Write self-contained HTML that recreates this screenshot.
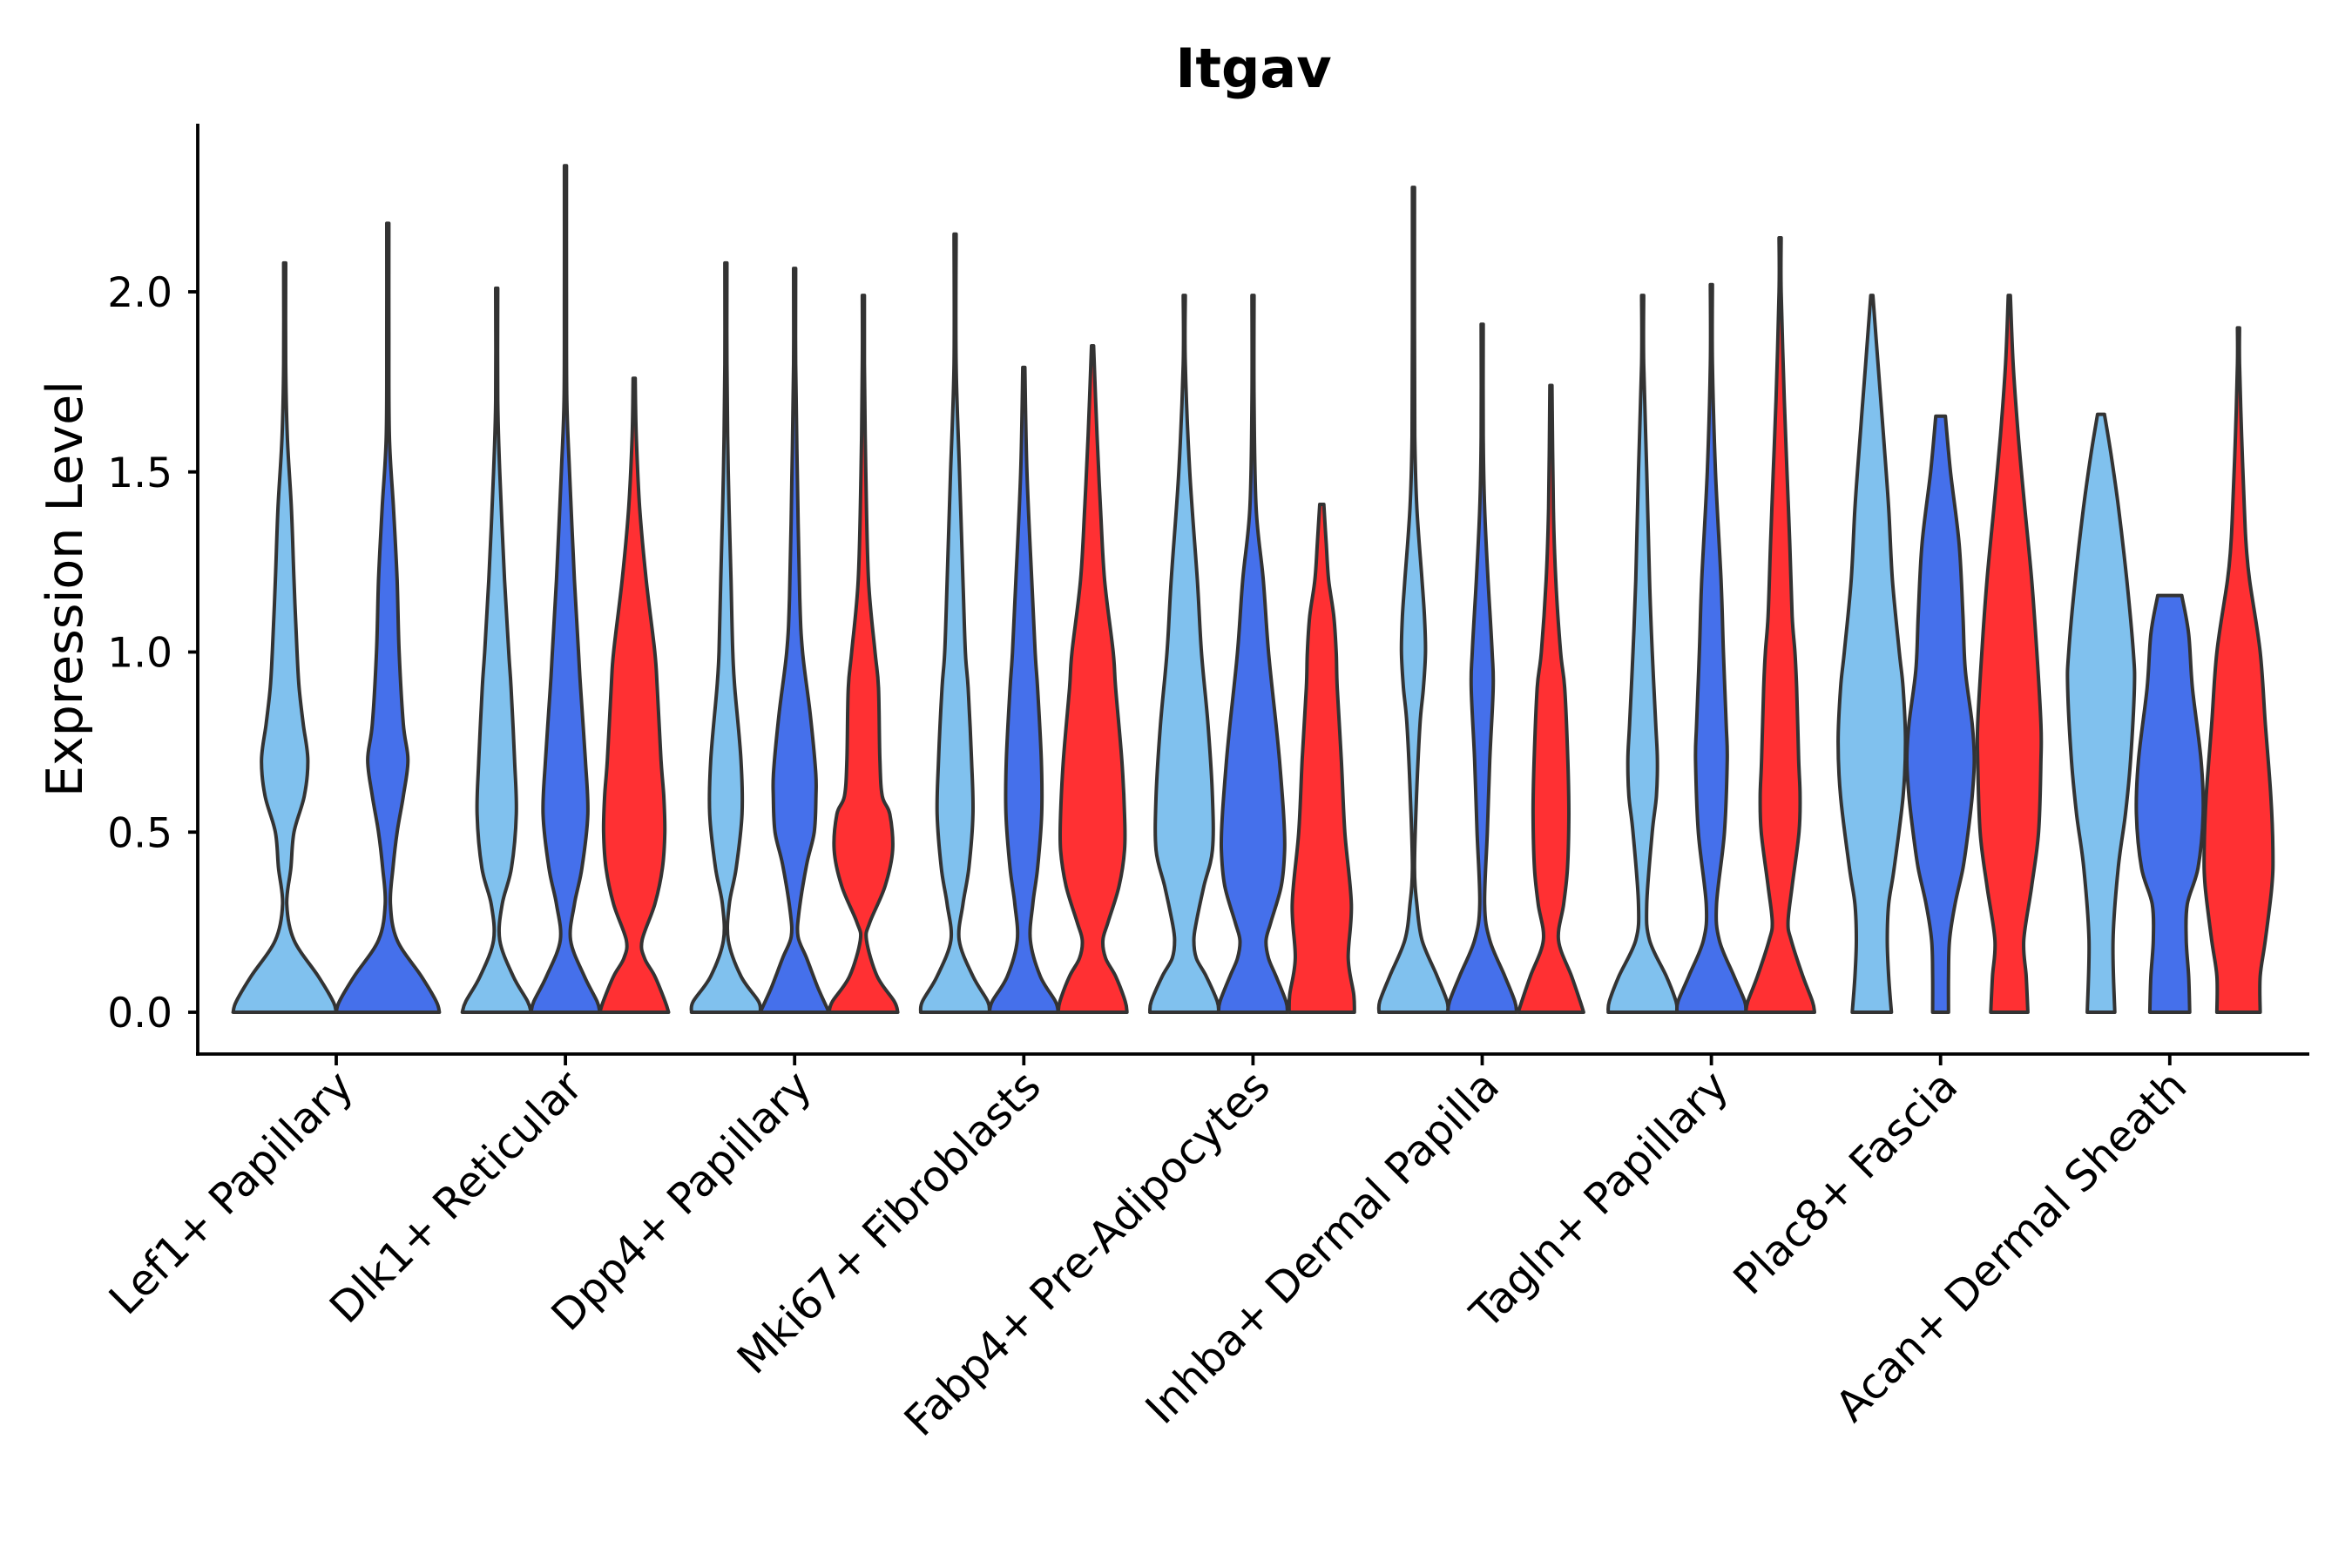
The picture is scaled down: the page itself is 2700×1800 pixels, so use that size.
<!DOCTYPE html>
<html><head><meta charset="utf-8"><style>
html,body{margin:0;padding:0;background:#fff}
svg{display:block}
text{font-family:"DejaVu Sans","Liberation Sans",sans-serif}
</style></head><body>
<svg id="chart" width="2700" height="1800" viewBox="0 0 2700 1800" xmlns="http://www.w3.org/2000/svg">
<text x="1439" y="100" font-size="62" font-weight="bold" text-anchor="middle" fill="#000">Itgav</text>
<text transform="translate(94,676) rotate(-90)" font-size="57" text-anchor="middle" fill="#000">Expression Level</text>
<g id="violins"></g>
<g id="axes"></g>
</svg>
<script>
const categories = ["Lef1+ Papillary","Dlk1+ Reticular","Dpp4+ Papillary","Mki67+ Fibroblasts","Fabp4+ Pre-Adipocytes","Inhba+ Dermal Papilla","Tagln+ Papillary","Plac8+ Fascia","Acan+ Dermal Sheath"];
const groups = ["light","blue","red"];
const groupColorList = ["#80C1EE","#4570EB","#FF3033"];
const yTicks = [0,0.5,1.0,1.5,2.0];
const yTickLabels = ["0.0","0.5","1.0","1.5","2.0"];
const violinCat = [0,0,1,1,1,2,2,2,3,3,3,4,4,4,5,5,5,6,6,6,7,7,7,8,8,8];
const violinGroup = [0,1,0,1,2,0,1,2,0,1,2,0,1,2,0,1,2,0,1,2,0,1,2,0,1,2];
const violinKnots = [
 [[0,1],[0.03,0.94],[0.1,0.65],[0.2,0.18],[0.3,0.04],[0.4,0.12],[0.5,0.18],[0.6,0.38],[0.7,0.45],[0.8,0.36],[0.9,0.28],[1.0,0.24],[1.2,0.18],[1.4,0.13],[1.6,0.05],[1.8,0.02],[2.08,0.012]],
 [[0,1],[0.03,0.94],[0.1,0.65],[0.2,0.18],[0.3,0.05],[0.4,0.1],[0.5,0.18],[0.6,0.3],[0.7,0.39],[0.8,0.3],[1.0,0.22],[1.2,0.18],[1.4,0.11],[1.6,0.03],[1.9,0.015],[2.19,0.012]],
 [[0,1],[0.03,0.9],[0.1,0.48],[0.2,0.09],[0.3,0.16],[0.4,0.43],[0.55,0.57],[0.7,0.52],[0.9,0.42],[1.0,0.35],[1.2,0.23],[1.5,0.09],[1.7,0.03],[2.01,0.02]],
 [[0,1],[0.03,0.92],[0.1,0.55],[0.2,0.15],[0.3,0.26],[0.4,0.48],[0.55,0.65],[0.7,0.58],[0.9,0.44],[1.0,0.38],[1.2,0.26],[1.5,0.12],[1.7,0.04],[2.0,0.015],[2.35,0.015]],
 [[0,1],[0.03,0.9],[0.1,0.6],[0.15,0.3],[0.2,0.23],[0.3,0.6],[0.4,0.82],[0.5,0.89],[0.6,0.86],[0.7,0.78],[0.9,0.67],[1.0,0.6],[1.2,0.35],[1.4,0.16],[1.6,0.06],[1.76,0.03]],
 [[0,1],[0.03,0.95],[0.1,0.44],[0.2,0.07],[0.3,0.1],[0.4,0.3],[0.55,0.47],[0.7,0.44],[0.9,0.26],[1.0,0.2],[1.2,0.15],[1.5,0.07],[1.8,0.02],[2.08,0.015]],
 [[0,1],[0.07,0.67],[0.15,0.35],[0.21,0.1],[0.28,0.13],[0.41,0.35],[0.5,0.57],[0.6,0.62],[0.67,0.61],[0.83,0.45],[1.0,0.23],[1.15,0.15],[1.48,0.08],[1.8,0.02],[2.065,0.015]],
 [[0,1],[0.03,0.9],[0.1,0.4],[0.2,0.09],[0.25,0.19],[0.35,0.63],[0.45,0.85],[0.55,0.77],[0.6,0.55],[0.7,0.48],[0.9,0.44],[1.0,0.34],[1.2,0.15],[1.5,0.07],[1.8,0.02],[1.99,0.015]],
 [[0,1],[0.03,0.95],[0.1,0.52],[0.2,0.12],[0.3,0.23],[0.4,0.4],[0.55,0.52],[0.7,0.48],[0.9,0.38],[1.0,0.3],[1.2,0.23],[1.5,0.13],[1.8,0.03],[2.16,0.015]],
 [[0,1],[0.03,0.92],[0.1,0.48],[0.2,0.19],[0.3,0.26],[0.4,0.4],[0.55,0.52],[0.7,0.51],[0.9,0.4],[1.0,0.33],[1.2,0.23],[1.5,0.09],[1.79,0.015]],
 [[0,1],[0.03,0.95],[0.1,0.67],[0.15,0.38],[0.2,0.3],[0.25,0.45],[0.35,0.77],[0.45,0.93],[0.55,0.93],[0.7,0.85],[0.9,0.67],[1.0,0.6],[1.2,0.35],[1.4,0.23],[1.6,0.13],[1.85,0.02]],
 [[0,1],[0.03,0.96],[0.1,0.64],[0.15,0.35],[0.2,0.28],[0.25,0.35],[0.35,0.57],[0.45,0.82],[0.6,0.82],[0.8,0.69],[1.0,0.5],[1.2,0.38],[1.5,0.16],[1.8,0.03],[1.99,0.015]],
 [[0,1],[0.03,0.96],[0.1,0.67],[0.15,0.45],[0.2,0.38],[0.25,0.52],[0.35,0.82],[0.45,0.92],[0.55,0.89],[0.7,0.77],[0.8,0.67],[1.0,0.45],[1.2,0.3],[1.4,0.09],[1.7,0.02],[1.99,0.015]],
 [[0,0.95],[0.05,0.93],[0.15,0.77],[0.3,0.86],[0.5,0.67],[0.7,0.57],[0.9,0.45],[1.0,0.42],[1.1,0.35],[1.2,0.2],[1.3,0.13],[1.41,0.06]],
 [[0,1],[0.03,0.98],[0.1,0.69],[0.2,0.25],[0.3,0.1],[0.4,0.03],[0.6,0.09],[0.8,0.19],[0.9,0.29],[1.0,0.35],[1.1,0.32],[1.2,0.25],[1.4,0.1],[1.6,0.04],[1.9,0.015],[2.29,0.012]],
 [[0,1],[0.03,0.95],[0.1,0.66],[0.2,0.22],[0.3,0.07],[0.5,0.15],[0.7,0.22],[0.9,0.32],[1.0,0.29],[1.2,0.17],[1.4,0.07],[1.6,0.03],[1.91,0.015]],
 [[0,0.95],[0.03,0.85],[0.1,0.6],[0.2,0.22],[0.3,0.37],[0.4,0.48],[0.55,0.52],[0.7,0.49],[0.9,0.4],[1.0,0.28],[1.2,0.14],[1.4,0.07],[1.74,0.03]],
 [[0,1],[0.03,0.97],[0.1,0.69],[0.2,0.2],[0.3,0.12],[0.5,0.28],[0.6,0.4],[0.7,0.43],[0.8,0.38],[1.0,0.28],[1.2,0.2],[1.5,0.12],[1.8,0.03],[1.99,0.015]],
 [[0,1],[0.03,0.97],[0.1,0.66],[0.2,0.23],[0.3,0.15],[0.5,0.38],[0.7,0.46],[0.8,0.43],[1.0,0.35],[1.2,0.28],[1.5,0.12],[1.8,0.03],[2.02,0.015]],
 [[0,1],[0.03,0.94],[0.1,0.66],[0.2,0.32],[0.25,0.23],[0.35,0.35],[0.5,0.55],[0.6,0.58],[0.7,0.54],[0.9,0.48],[1.0,0.43],[1.1,0.35],[1.3,0.28],[1.5,0.2],[1.7,0.12],[2.0,0.02],[2.15,0.015]],
 [[0,0.57],[0.1,0.49],[0.2,0.45],[0.3,0.49],[0.4,0.65],[0.6,0.91],[0.75,0.98],[0.9,0.91],[1.0,0.8],[1.2,0.6],[1.4,0.49],[1.6,0.34],[1.8,0.18],[1.99,0.03]],
 [[0,0.23],[0.1,0.23],[0.2,0.26],[0.3,0.42],[0.4,0.65],[0.5,0.8],[0.6,0.92],[0.7,0.98],[0.8,0.92],[0.95,0.72],[1.1,0.65],[1.3,0.54],[1.5,0.29],[1.655,0.14]],
 [[0,0.54],[0.1,0.49],[0.2,0.42],[0.35,0.65],[0.5,0.85],[0.7,0.92],[0.8,0.92],[1.0,0.8],[1.2,0.65],[1.4,0.45],[1.6,0.26],[1.8,0.11],[1.99,0.02]],
 [[0,0.4],[0.2,0.35],[0.4,0.5],[0.55,0.71],[0.7,0.86],[0.9,0.97],[1.0,0.94],[1.2,0.75],[1.4,0.51],[1.55,0.29],[1.66,0.1]],
 [[0,0.58],[0.1,0.55],[0.2,0.48],[0.3,0.51],[0.4,0.82],[0.55,0.97],[0.7,0.91],[0.9,0.66],[1.05,0.55],[1.157,0.35]],
 [[0,0.63],[0.1,0.63],[0.2,0.78],[0.35,0.97],[0.45,1.0],[0.6,0.94],[0.8,0.78],[1.0,0.63],[1.2,0.32],[1.3,0.22],[1.4,0.17],[1.6,0.09],[1.8,0.03],[1.9,0.015]]
];

const NS = "http://www.w3.org/2000/svg";
const X0 = 386, DX = 263.1, Y0 = 1162, PX_PER_UNIT = 413.5;
function xScale(i){ return X0 + i*DX; }
function yScale(v){ return Y0 - v*PX_PER_UNIT; }
function spline(pts){
  let d = "";
  for (let i=0;i<pts.length-1;i++){
    const p0 = pts[Math.max(i-1,0)], p1 = pts[i], p2 = pts[i+1], p3 = pts[Math.min(i+2,pts.length-1)];
    const c1 = [p1[0]+(p2[0]-p0[0])/6, p1[1]+(p2[1]-p0[1])/6];
    const c2 = [p2[0]-(p3[0]-p1[0])/6, p2[1]-(p3[1]-p1[1])/6];
    d += " C" + c1[0].toFixed(1) + "," + c1[1].toFixed(1) + " " + c2[0].toFixed(1) + "," + c2[1].toFixed(1) + " " + p2[0].toFixed(1) + "," + p2[1].toFixed(1);
  }
  return d;
}

const vg = document.getElementById('violins');
const counts = {};
violinCat.forEach(c => { counts[c] = (counts[c]||0)+1; });
const slotIdx = {};
for (let k = 0; k < violinKnots.length; k++) {
  const knots = violinKnots[k];
  const c = violinCat[k];
  const n = counts[c] || 3;
  const slot = slotIdx[c] || 0; slotIdx[c] = slot + 1;
  let g = violinGroup[k];
  if (g === undefined || groupColorList[g] === undefined) g = slot % 3;
  const slotW = 0.9*DX/n;
  const cx = xScale(c) - 0.45*DX + slotW*(slot+0.5);
  const H = slotW/2;
  const right = knots.map(kn => [cx + Math.max(kn[1]*H,1.2), yScale(kn[0])]);
  const left = knots.map(kn => [cx - Math.max(kn[1]*H,1.2), yScale(kn[0])]).reverse();
  const d = "M" + right[0][0].toFixed(1) + "," + right[0][1].toFixed(1) + spline(right) +
          " L" + left[0][0].toFixed(1) + "," + left[0][1].toFixed(1) + spline(left) + " Z";
  const color = groupColorList[g] || "#FF3033";
  const p = document.createElementNS(NS,'path');
  p.setAttribute('d', d);
  p.setAttribute('fill', color);
  p.setAttribute('stroke', '#333333');
  p.setAttribute('stroke-width', '4');
  p.setAttribute('stroke-linejoin', 'round');
  
  
  vg.appendChild(p);
}

const ag = document.getElementById('axes');
function line(x1,y1,x2,y2,name){
  const l = document.createElementNS(NS,'line');
  l.setAttribute('x1',x1); l.setAttribute('y1',y1); l.setAttribute('x2',x2); l.setAttribute('y2',y2);
  l.setAttribute('stroke','#000'); l.setAttribute('stroke-width','3.8');
  
  
  ag.appendChild(l);
}
line(227,142,227,1212,'y-axis-line');
line(225,1210,2651,1210,'x-axis-line');
yTicks.forEach((t,i) => {
  line(216,yScale(t),227,yScale(t),'y-tick');
  const tx = document.createElementNS(NS,'text');
  tx.setAttribute('x',198); tx.setAttribute('y',yScale(t)+17);
  tx.setAttribute('font-size','47'); tx.setAttribute('text-anchor','end');
  tx.setAttribute('fill','#000');
  tx.textContent = yTickLabels[i];
  
  
  ag.appendChild(tx);
});
categories.forEach((c,i) => {
  const x = xScale(i);
  line(x,1210,x,1223,'x-tick');
  const tx = document.createElementNS(NS,'text');
  tx.setAttribute('transform','translate(' + (x+22) + ',1250) rotate(-45)');
  tx.setAttribute('font-size','49'); tx.setAttribute('text-anchor','end');
  tx.setAttribute('fill','#000');
  tx.textContent = c;
  
  
  ag.appendChild(tx);
});
</script>
</body></html>
